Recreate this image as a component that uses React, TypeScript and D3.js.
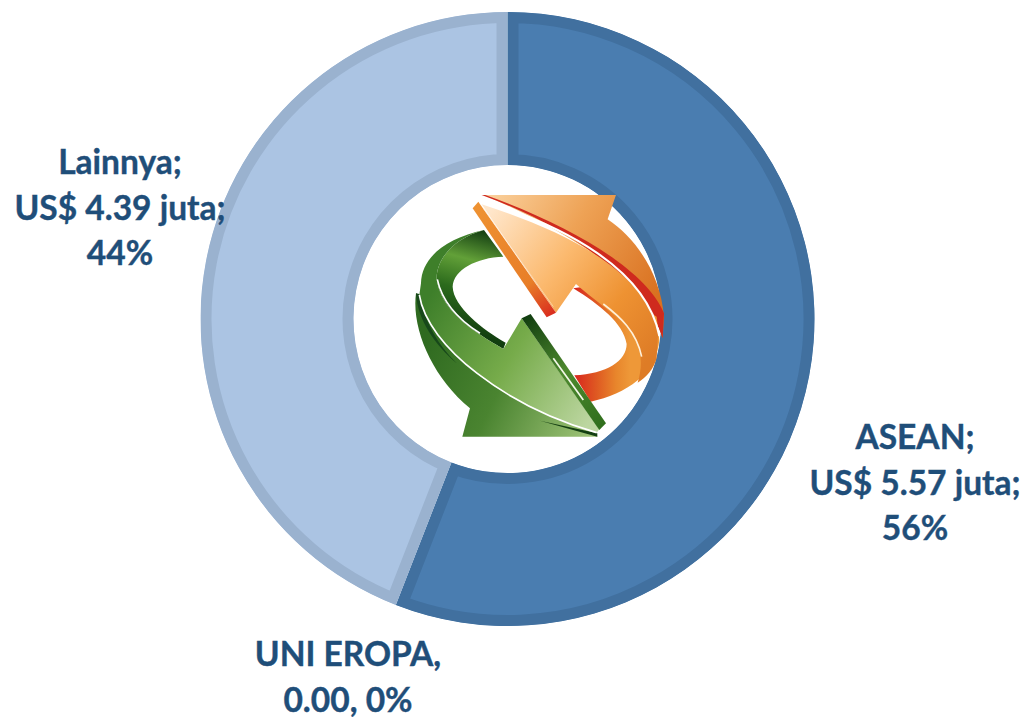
import React from "react";
import * as d3 from "d3";

const categories = ["ASEAN", "UNI EROPA", "Lainnya"];
const values = [5.57, 0, 4.39];
const fills = ["#4A7DB0", "#7F9FC8", "#ABC4E3"];
const borders = ["#41709F", "#7F9FC8", "#9AB2CF"];
const labelLines = [
  ["ASEAN;", "US$ 5.57 juta;", "56%"],
  ["UNI EROPA,", "0.00, 0%"],
  ["Lainnya;", "US$ 4.39 juta;", "44%"],
];
const labelAnchors: [number, number][] = [[915, 449], [348, 666], [120, 174]];

const W = 1028, H = 717, CX = 507.5, CY = 319, R = 307, R0 = 154;

function Icon() {
  return (
    <g transform="translate(340,150) scale(0.3333)">
      <defs>
        <linearGradient id="oBack" gradientUnits="userSpaceOnUse" x1="450" y1="135" x2="950" y2="450">
          <stop offset="0" stopColor="#FAD09C" />
          <stop offset="0.45" stopColor="#EEA255" />
          <stop offset="1" stopColor="#D9701F" />
        </linearGradient>
        <linearGradient id="oFront" gradientUnits="userSpaceOnUse" x1="440" y1="200" x2="950" y2="600">
          <stop offset="0" stopColor="#FFE6CA" />
          <stop offset="0.4" stopColor="#FBB96E" />
          <stop offset="0.72" stopColor="#EE9232" />
          <stop offset="1" stopColor="#DE7C26" />
        </linearGradient>
        <linearGradient id="oWall" gradientUnits="userSpaceOnUse" x1="705" y1="600" x2="870" y2="600">
          <stop offset="0" stopColor="#D8281E" />
          <stop offset="0.4" stopColor="#DF5A22" />
          <stop offset="0.75" stopColor="#E8862C" />
          <stop offset="1" stopColor="#EE9838" />
        </linearGradient>
        <linearGradient id="oHeadSide" gradientUnits="userSpaceOnUse" x1="400" y1="170" x2="640" y2="500">
          <stop offset="0" stopColor="#EE9232" />
          <stop offset="0.7" stopColor="#E87E28" />
          <stop offset="1" stopColor="#D8281E" />
        </linearGradient>
        <linearGradient id="gBack" gradientUnits="userSpaceOnUse" x1="240" y1="600" x2="770" y2="860">
          <stop offset="0" stopColor="#2F6A20" />
          <stop offset="0.45" stopColor="#4A8430" />
          <stop offset="1" stopColor="#A4C77C" />
        </linearGradient>
        <linearGradient id="gFront" gradientUnits="userSpaceOnUse" x1="260" y1="450" x2="770" y2="780">
          <stop offset="0" stopColor="#3E7F2A" />
          <stop offset="0.5" stopColor="#76AB4A" />
          <stop offset="1" stopColor="#BCD6A0" />
        </linearGradient>
        <linearGradient id="gWall" gradientUnits="userSpaceOnUse" x1="420" y1="240" x2="340" y2="540">
          <stop offset="0" stopColor="#143F12" />
          <stop offset="0.3" stopColor="#62A038" />
          <stop offset="0.6" stopColor="#2B6A1C" />
          <stop offset="1" stopColor="#123E10" />
        </linearGradient>
        <linearGradient id="gHeadSide" gradientUnits="userSpaceOnUse" x1="560" y1="500" x2="790" y2="830">
          <stop offset="0" stopColor="#123E10" />
          <stop offset="0.5" stopColor="#4E8A2E" />
          <stop offset="1" stopColor="#2F6E1C" />
        </linearGradient>
      </defs>

      {/* orange arrow */}
      <path d="M432,135 L828,135 L803,208 C885,262 962,370 972,500 L968,565 C930,430 790,290 432,135 Z" fill="url(#oBack)" />
      <path d="M425,135 L436,135 C690,225 920,360 972,490 L968,565 C925,420 730,245 425,135 Z" fill="#CF2A1E" />
      <path d="M700,415 C780,465 850,520 860,582 C860,632 800,672 703,676 L752,755 C860,732 950,670 958,570 L950,500 L800,400 Z" fill="url(#oWall)" />
      <path d="M425,163 C650,235 905,350 955,540 L950,625 C942,655 920,682 893,698 C908,650 905,610 888,570 C860,515 780,465 708,402 L648,488 Z" fill="url(#oFront)" />
      <path d="M790,462 C840,500 890,545 905,620" fill="none" stroke="#FFF0D8" strokeWidth="5" />
      <path d="M428,152 C680,230 920,360 958,558" fill="none" stroke="#FFF" strokeWidth="6" />
      <path d="M415,155 L648,488 L620,502 L398,175 Z" fill="url(#oHeadSide)" />
      <path d="M430,175 L640,470" fill="none" stroke="#FFE6CA" strokeWidth="3" opacity="0.6" />

      {/* green arrow */}
      <path d="M228,430 C214,535 275,680 390,775 L367,860 L772,860 L770,848 C500,770 262,590 238,435 Z" fill="url(#gBack)" />
      <path d="M228,430 L238,432 C252,515 295,585 350,640 C285,585 232,510 228,430 Z" fill="#17481A" />
      <path d="M600,812 L772,850 L772,860 Z" fill="#143F12" />
      <path d="M432,240 L490,320 C410,322 340,360 338,410 C340,470 430,540 497,578 L490,597 C400,545 300,480 290,385 C290,320 350,262 432,240 Z" fill="url(#gWall)" />
      <path d="M432,240 C320,265 245,320 243,400 L238,435 C262,590 500,770 770,848 L778,838 L545,505 L490,597 C400,545 300,480 290,385 C290,320 350,262 432,240 Z" fill="url(#gFront)" />
      <path d="M238,435 C262,590 500,770 770,848" fill="none" stroke="#FFF" strokeWidth="5" />
      <path d="M292,388 C305,450 350,505 420,550" fill="none" stroke="#FFF" strokeWidth="5" />
      <path d="M545,505 L572,492 L798,820 L778,840 Z" fill="url(#gHeadSide)" />
      <path d="M640,625 L730,750" fill="none" stroke="#F4F8E8" strokeWidth="5" />
    </g>
  );
}

export default function App() {
  const pie = d3.pie<number>().sort(null).value((d) => d);
  const arcs = pie(values);
  const arc = d3.arc<d3.PieArcDatum<number>>().innerRadius(R0).outerRadius(R);

  return (
    <svg width={W} height={H} style={{ position: "absolute", left: 0, top: 0 }}
      fontFamily="Lato, 'Open Sans', sans-serif">
      <rect width={W} height={H} fill="#fff" />
      <g transform={`translate(${CX},${CY})`}>
        {arcs.map((a, i) => {
          if (a.value === 0) return null;
          const d = arc(a) as string;
          return (
            <g key={categories[i]}>
              <clipPath id={`slice${i}`}><path d={d} /></clipPath>
              <path d={d} fill={fills[i]} stroke={borders[i]} strokeWidth={22}
                strokeLinejoin="miter" clipPath={`url(#slice${i})`} />
            </g>
          );
        })}
      </g>
      <Icon />
      {labelLines.map((lines, i) => (
        <text key={categories[i]} x={labelAnchors[i][0]} y={labelAnchors[i][1]}
          textAnchor="middle" fontWeight={700} fontSize={33.5} fill="#1F4E79"
          stroke="#1F4E79" strokeWidth={0.4}>
          {lines.map((l, j) => (
            <tspan key={j} x={labelAnchors[i][0]} dy={j === 0 ? 0 : 45.5}>{l}</tspan>
          ))}
        </text>
      ))}
    </svg>
  );
}
